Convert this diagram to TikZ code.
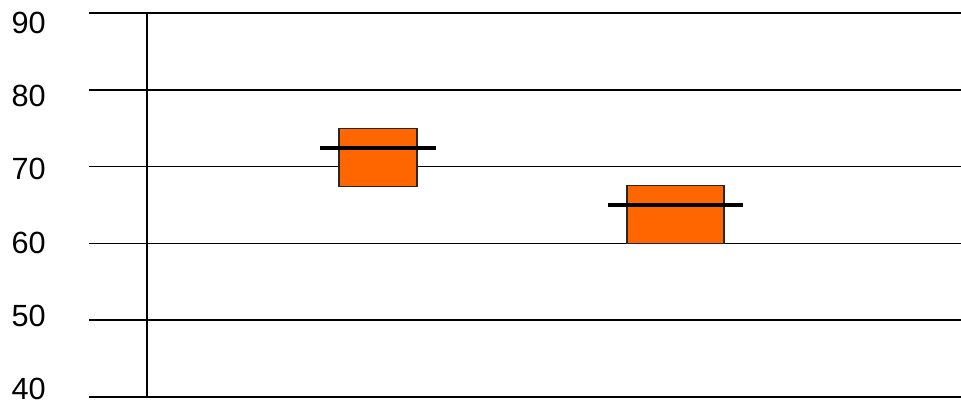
\documentclass[tikz,border=0pt]{standalone}
\usepackage{fontspec}
\setmainfont{Liberation Sans}
\usepackage{tikz}
\usepackage{xcolor}
\definecolor{boxorange}{HTML}{FF6600}

\begin{document}
\begin{tikzpicture}[x=0.75pt, y=-0.75pt]
        \useasboundingbox (0,0) rectangle (961,400);
        \foreach \v[count=\i] in {90, 80, 70, 60, 50, 40} {
            \node[anchor=east, inner sep=0, font=\fontsize{23}{23}\selectfont] (lab\v) at (46, 73.2*\i-50.2) {\v};
            \draw[line width=1.2pt] (89, 76.8*\i-63.8) -- (961, 76.8*\i-63.8);
        }
        \draw[line width=1.2pt] (147, 13) -- (147, 397);
        \foreach \l/\r/\t/\b/\m in {339/417/128.3/186.7/147.7, 627/724/185.8/243.4/205} {
            \draw[fill=boxorange, draw=black!85, line width=1pt] (\l, \t) rectangle (\r, \b);
            \draw[line width=3pt] (\l-19, \m) -- (\r+19, \m);
        }
    \end{tikzpicture}
\end{document}
